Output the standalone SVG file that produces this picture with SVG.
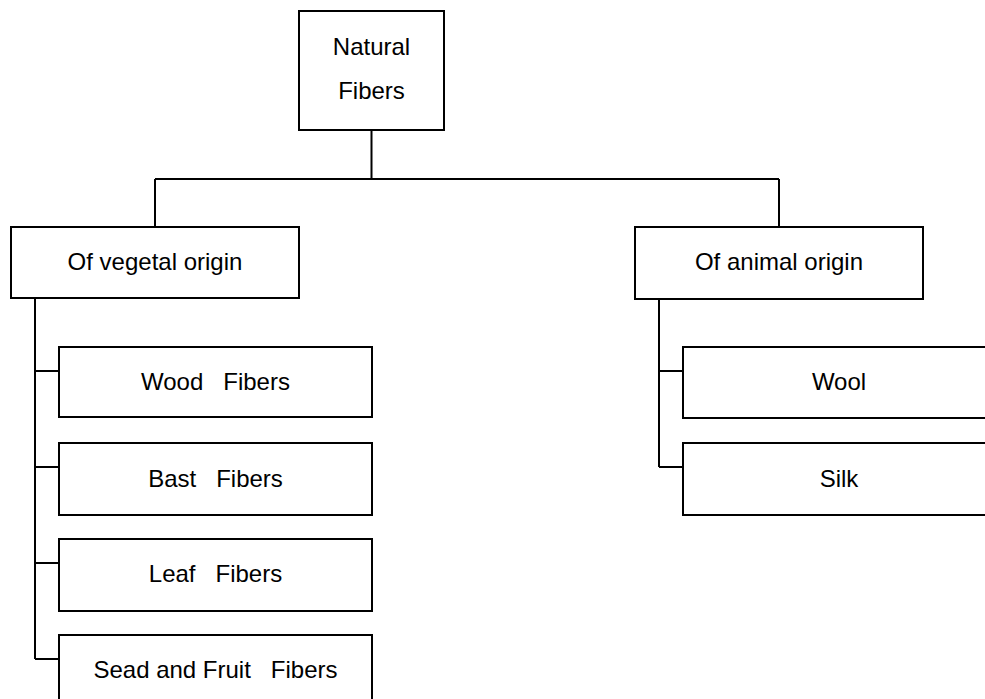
<svg xmlns="http://www.w3.org/2000/svg" width="985" height="699" viewBox="0 0 985 699">
<style>
.box{fill:#fff;stroke:#000;stroke-width:2}
.ln{fill:none;stroke:#000;stroke-width:2}
text{font-family:"Liberation Sans",Arial,sans-serif;font-size:24px;fill:#000;text-anchor:middle}
</style>
<rect width="985" height="699" fill="#fff"/>
<g id="connectors">
<path class="ln" d="M371.5,130 V179 M155,179 H779 M155,179 V227 M779,179 V227"/>
<path class="ln" d="M35,298 V659 M35,371 H59 M35,467 H59 M35,563 H59 M35,659 H59"/>
<path class="ln" d="M659,299 V467 M659,371 H683 M659,467 H683"/>
</g>
<g id="natural"><rect class="box" x="299" y="11" width="145" height="119"/><text x="371.5" y="55">Natural</text><text x="371.5" y="99">Fibers</text></g>
<g id="vegetal"><rect class="box" x="11" y="227" width="288" height="71"/><text x="155" y="270">Of vegetal origin</text></g>
<g id="animal"><rect class="box" x="635" y="227" width="288" height="72"/><text x="779" y="270">Of animal origin</text></g>
<g id="wood"><rect class="box" x="59" y="347" width="313" height="70"/><text x="215.5" y="390" xml:space="preserve">Wood   Fibers</text></g>
<g id="bast"><rect class="box" x="59" y="443" width="313" height="72"/><text x="215.5" y="487" xml:space="preserve">Bast   Fibers</text></g>
<g id="leaf"><rect class="box" x="59" y="539" width="313" height="72"/><text x="215.5" y="582" xml:space="preserve">Leaf   Fibers</text></g>
<g id="sead"><rect class="box" x="59" y="635" width="313" height="72"/><text x="215.5" y="678" xml:space="preserve">Sead and Fruit   Fibers</text></g>
<g id="wool"><rect class="box" x="683" y="347" width="320" height="71"/><text x="839" y="390">Wool</text></g>
<g id="silk"><rect class="box" x="683" y="443" width="320" height="72"/><text x="839" y="487">Silk</text></g>
</svg>
